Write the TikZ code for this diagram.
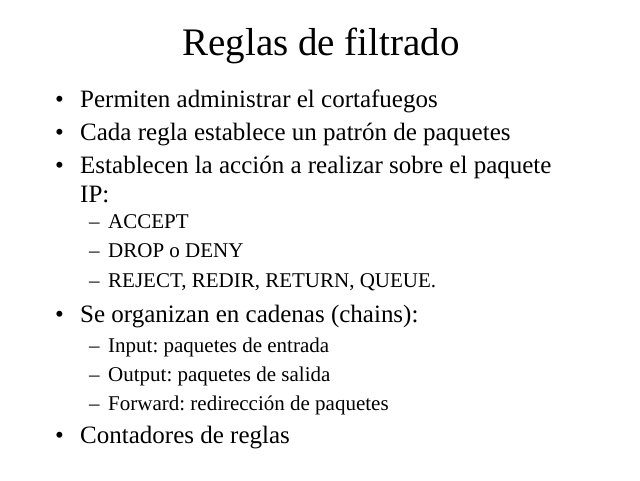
\documentclass[tikz,border=0pt]{standalone}
\usepackage{fontspec}
\setmainfont{Liberation Serif}
\frenchspacing
\begin{document}
\begin{tikzpicture}[x=1pt,y=1pt,yscale=-1,
  titletext/.style={anchor=base,inner sep=0pt,font=\fontsize{39}{39}\selectfont},
  bullettext/.style={anchor=base west,inner sep=0pt,font=\fontsize{25}{25}\selectfont},
  subtext/.style={anchor=base west,inner sep=0pt,font=\fontsize{21}{21}\selectfont}]
%set diagram left start at 0, and has height of 480
\useasboundingbox (0,0) rectangle (640,480);

% Text Node
\node (title) at (321,55) [titletext] {Reglas de filtrado};

% Text Node
\node (b1) at (55,107) [bullettext] {\textbullet};
\node (t1) at (80,107) [bullettext] {Permiten administrar el cortafuegos};
% Text Node
\node (b2) at (55,140) [bullettext] {\textbullet};
\node (t2) at (80,140) [bullettext] {Cada regla establece un patrón de paquetes};
% Text Node
\node (b3) at (55,173) [bullettext] {\textbullet};
\node (t3) at (80,173) [bullettext] {Establecen la acción a realizar sobre el paquete};
\node (t3b) at (80,202) [bullettext] {IP:};

% Text Node
\node (d1) at (89,228) [subtext] {–};
\node (s1) at (108,228) [subtext] {ACCEPT};
% Text Node
\node (d2) at (89,257) [subtext] {–};
\node (s2) at (108,257) [subtext] {DROP o DENY};
% Text Node
\node (d3) at (89,287) [subtext] {–};
\node (s3) at (108,287) [subtext] {REJECT, REDIR, RETURN, QUEUE.};

% Text Node
\node (b4) at (55,322) [bullettext] {\textbullet};
\node (t4) at (80,322) [bullettext] {Se organizan en cadenas (chains):};

% Text Node
\node (d4) at (89,352) [subtext] {–};
\node (s4) at (108,352) [subtext] {Input: paquetes de entrada};
% Text Node
\node (d5) at (89,381) [subtext] {–};
\node (s5) at (108,381) [subtext] {Output: paquetes de salida};
% Text Node
\node (d6) at (89,410) [subtext] {–};
\node (s6) at (108,410) [subtext] {Forward: redirección de paquetes};

% Text Node
\node (b5) at (55,443) [bullettext] {\textbullet};
\node (t5) at (80,443) [bullettext] {Contadores de reglas};

\end{tikzpicture}
\end{document}
